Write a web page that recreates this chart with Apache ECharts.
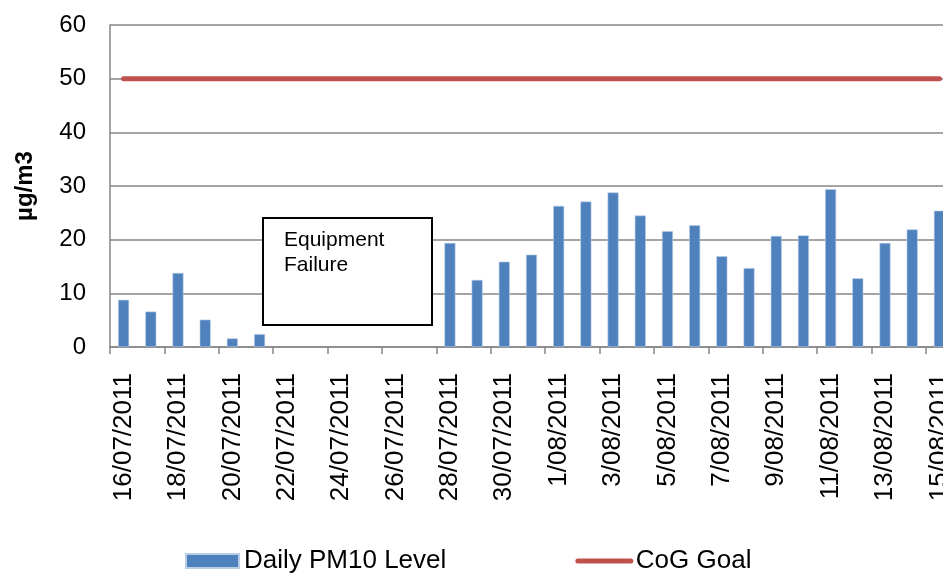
<!DOCTYPE html>
<html>
<head>
<meta charset="utf-8">
<script src="https://cdn.jsdelivr.net/npm/echarts@6/dist/echarts.min.js"></script>
<style>
  html, body { margin: 0; padding: 0; background: #fff; }
  #chart { width: 943px; height: 573px; }
</style>
</head>
<body>
<div id="chart"></div>
<script>
// dates 16/07/2011 .. 15/08/2011
const dates = [
  '16/07/2011', '17/07/2011', '18/07/2011', '19/07/2011', '20/07/2011', '21/07/2011',
  '22/07/2011', '23/07/2011', '24/07/2011', '25/07/2011', '26/07/2011', '27/07/2011',
  '28/07/2011', '29/07/2011', '30/07/2011', '31/07/2011',
  '1/08/2011', '2/08/2011', '3/08/2011', '4/08/2011', '5/08/2011', '6/08/2011',
  '7/08/2011', '8/08/2011', '9/08/2011', '10/08/2011', '11/08/2011', '12/08/2011',
  '13/08/2011', '14/08/2011', '15/08/2011'
]
// daily PM10, null = equipment failure
const pm10 = [
  8.8, 6.6, 13.8, 5.1, 1.6, 2.4,
  null, null, null, null, null, null,
  19.4, 12.5, 15.9, 17.2,
  26.3, 27.1, 28.8, 24.5, 21.6, 22.7,
  16.9, 14.7, 20.7, 20.8, 29.4, 12.8,
  19.4, 21.9, 25.4
]
const goal = dates.map(() => 50)
const yTicks = [0, 10, 20, 30, 40, 50, 60]

const font = 'Liberation Sans, Arial, sans-serif'
const chart = echarts.init(document.getElementById('chart'))

const option = {
  animation: false,
  backgroundColor: '#fff',
  textStyle: { fontFamily: font, color: '#000' },
  grid: {
    left: 110,
    top: 25,
    right: -10,
    bottom: 226,
    outerBoundsMode: 'none'
  },
  legend: {
    top: 543,
    left: 180,
    itemWidth: 53,
    itemHeight: 14,
    itemGap: 129,
    textStyle: { fontSize: 26, color: '#000', fontFamily: font },
    data: [
      { name: 'Daily PM10 Level', icon: 'rect' },
      {
        name: 'CoG Goal',
        itemStyle: { opacity: 0 },
        lineStyle: { width: 5, color: '#C0504D', cap: 'round' }
      }
    ]
  },
  xAxis: {
    type: 'category',
    data: dates,
    axisLine: { lineStyle: { color: '#868686', width: 1.5 } },
    axisTick: {
      show: true,
      interval: 1,
      length: 7,
      lineStyle: { color: '#868686', width: 1.5 }
    },
    axisLabel: {
      interval: 1,
      rotate: 90,
      margin: 26,
      fontSize: 26,
      color: '#000',
      fontFamily: font
    }
  },
  yAxis: {
    type: 'value',
    min: yTicks[0],
    max: yTicks[yTicks.length - 1],
    interval: 10,
    name: 'µg/m3',
    nameLocation: 'middle',
    nameGap: 73,
    nameTextStyle: { fontSize: 24, fontWeight: 'bold', color: '#000', fontFamily: font },
    axisLine: { show: true, lineStyle: { color: '#868686', width: 1.5 } },
    axisTick: { show: false },
    axisLabel: { fontSize: 24, color: '#000', margin: 24, fontFamily: font },
    splitLine: { lineStyle: { color: '#868686', width: 1.5 } }
  },
  series: [
    {
      name: 'Daily PM10 Level',
      type: 'bar',
      data: pm10,
      barWidth: 11,
      itemStyle: {
        color: '#4F81BD',
        borderColor: '#B9CDE5',
        borderWidth: 0.6
      }
    },
    {
      name: 'CoG Goal',
      type: 'line',
      data: goal,
      symbol: 'none',
      z: 3,
      lineStyle: { color: '#C0504D', width: 5, cap: 'round' },
      itemStyle: { color: '#C0504D' }
    }
  ],
  graphic: [
    {
      type: 'rect',
      z: 100,
      shape: { x: 263, y: 218, width: 169, height: 107 },
      style: { fill: '#fff', stroke: '#000', lineWidth: 2 }
    },
    {
      type: 'text',
      z: 101,
      left: 284,
      top: 228,
      style: {
        text: 'Equipment\nFailure',
        fontSize: 21,
        lineHeight: 25,
        fontFamily: font,
        fill: '#000'
      }
    }
  ]
}

chart.setOption(option)
</script>
</body>
</html>
